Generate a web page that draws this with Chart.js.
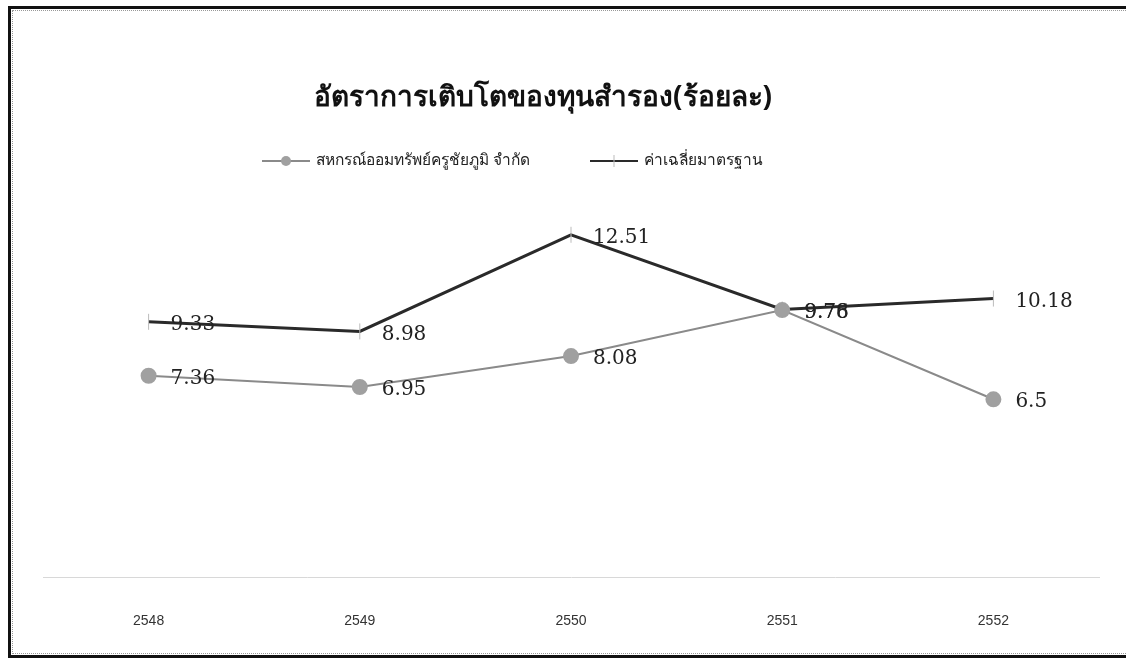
<!DOCTYPE html>
<html>
<head>
<meta charset="utf-8">
<script src="https://cdn.jsdelivr.net/npm/chart.js@4.4.0/dist/chart.umd.min.js"></script>
<style>
  html, body { margin: 0; padding: 0; background: #fff; }
  #wrap { position: relative; width: 1126px; height: 666px; overflow: hidden; }
  #frame {
    position: absolute; left: 8px; top: 6px; width: 1130px; height: 652px;
    border: 3px solid #111; box-sizing: border-box;
  }
  #frame::after {
    content: ""; position: absolute; left: 1px; top: 1px; right: 1px; bottom: 1px;
    border: 1px dotted #999;
  }
  canvas { position: absolute; left: 0; top: 0; }
</style>
</head>
<body>
<div id="wrap">
  <div id="frame"></div>
  <canvas id="chart" width="1126" height="666"></canvas>
</div>
<script>
const years = ['2548', '2549', '2550', '2551', '2552'];
const coopValues = [7.36, 6.95, 8.08, 9.76, 6.5];
const standardValues = [9.33, 8.98, 12.51, 9.78, 10.18];
const titleText = 'อัตราการเติบโตของทุนสำรอง(ร้อยละ)';
const coopLabel = 'สหกรณ์ออมทรัพย์ครูชัยภูมิ จำกัด';
const standardLabel = 'ค่าเฉลี่ยมาตรฐาน';

// title, legend and value labels drawn by hand
const decorations = {
  id: 'decorations',
  afterDatasetsDraw(chart) {
    const ctx = chart.ctx;
    ctx.save();

    // value labels next to each point
    ctx.font = '20px "DejaVu Serif", serif';
    ctx.fillStyle = '#222';
    ctx.textAlign = 'left';
    ctx.textBaseline = 'middle';
    chart.data.datasets.forEach((ds, i) => {
      chart.getDatasetMeta(i).data.forEach((pt, j) => {
        ctx.fillText(String(ds.data[j]), pt.x + 22, pt.y + 3);
      });
    });

    // title
    ctx.font = 'bold 28px "Noto Sans", "DejaVu Serif", serif';
    ctx.fillStyle = '#111';
    ctx.textAlign = 'center';
    ctx.fillText(titleText, 543, 98);

    // legend
    ctx.font = '15.5px "Noto Sans", sans-serif';
    ctx.textAlign = 'left';
    const items = [[262, 0], [590, 1]];
    items.forEach(([x, i]) => {
      const ds = chart.data.datasets[i];
      const y = 161;
      ctx.strokeStyle = ds.borderColor;
      ctx.lineWidth = 2;
      ctx.beginPath();
      ctx.moveTo(x, y);
      ctx.lineTo(x + 48, y);
      ctx.stroke();
      if (i === 0) {
        ctx.fillStyle = ds.pointBackgroundColor;
        ctx.beginPath();
        ctx.arc(x + 24, y, 5, 0, Math.PI * 2);
        ctx.fill();
      } else {
        ctx.strokeStyle = ds.pointBorderColor;
        ctx.lineWidth = 1;
        ctx.beginPath();
        ctx.moveTo(x + 24, y - 6);
        ctx.lineTo(x + 24, y + 6);
        ctx.stroke();
      }
      ctx.fillStyle = '#222';
      ctx.fillText(ds.label, x + 54, y);
    });
    ctx.restore();
  }
};

new Chart(document.getElementById('chart'), {
  type: 'line',
  data: {
    labels: years,
    datasets: [
      {
        label: coopLabel,
        data: coopValues,
        borderColor: '#8a8a8a',
        borderWidth: 2,
        pointStyle: 'circle',
        pointRadius: 7,
        pointBackgroundColor: '#a0a0a0',
        pointBorderColor: '#a0a0a0',
        tension: 0
      },
      {
        label: standardLabel,
        data: standardValues,
        borderColor: '#2a2a2a',
        borderWidth: 3,
        pointStyle: 'line',
        rotation: 90,
        pointRadius: 8,
        pointBorderWidth: 1,
        pointBackgroundColor: '#bbb',
        pointBorderColor: '#bbb',
        tension: 0
      }
    ]
  },
  options: {
    responsive: false,
    animation: false,
    layout: { padding: { left: 43, right: 27, top: 194, bottom: 8 } },
    plugins: {
      legend: { display: false },
      title: { display: false },
      tooltip: { enabled: false }
    },
    scales: {
      x: {
        offset: true,
        grid: { display: false },
        border: { display: true, color: '#d8d8d8', dash: [2, 10] },
        ticks: {
          padding: 28,
          color: '#333',
          font: { family: '"Liberation Sans Narrow", "Liberation Sans", sans-serif', size: 14 }
        }
      },
      y: {
        display: false,
        min: 0,
        max: 14
      }
    }
  },
  plugins: [decorations]
});
</script>
</body>
</html>
